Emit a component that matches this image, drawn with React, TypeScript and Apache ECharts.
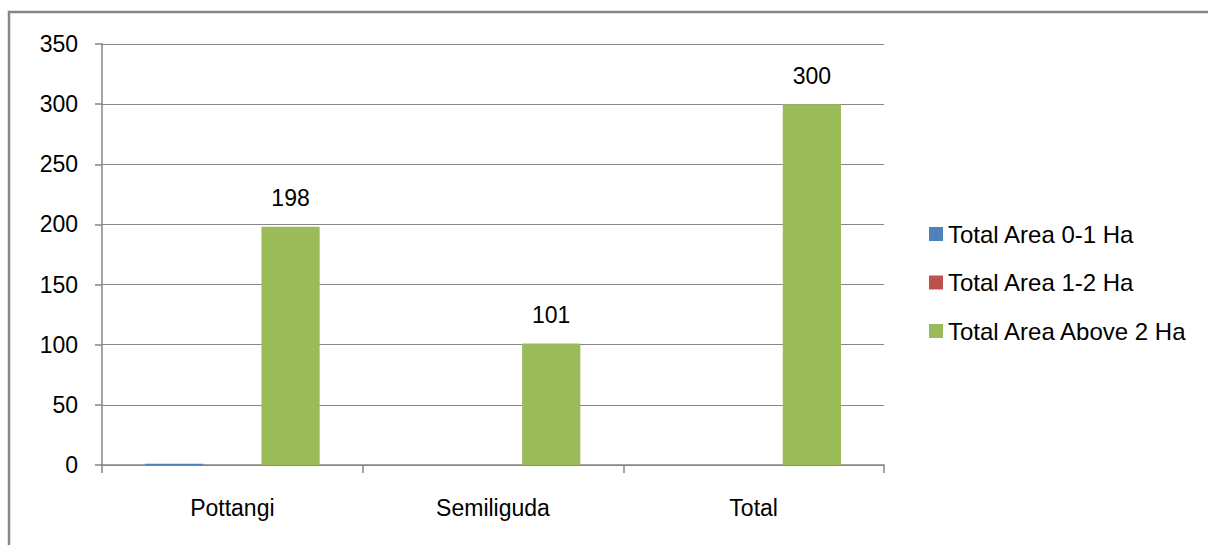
import React, { useEffect, useRef } from "react";
import * as echarts from "echarts";

const categories = ["Pottangi", "Semiliguda", "Total"];
const seriesNames = ["Total Area 0-1 Ha", "Total Area 1-2 Ha", "Total Area Above 2 Ha"];
const area01 = [1, 0, 0];
const area12 = [0, 0, 0];
const areaAbove2 = [198, 101, 300];
const colors = ["#4F81BD", "#C0504D", "#9BBB59"];
const yTicks = { min: 0, max: 350, interval: 50 };

const FONT = '"Liberation Sans", Arial, sans-serif';
const FS = 23;

export default function App() {
  const ref = useRef<HTMLDivElement>(null);
  useEffect(() => {
    if (!ref.current) return;
    const chart = echarts.init(ref.current, null, { renderer: "svg" });
    const values = [area01, area12, areaAbove2];
    chart.setOption({
      animation: false,
      backgroundColor: "#ffffff",
      textStyle: { fontFamily: FONT },
      graphic: [
        {
          type: "rect",
          shape: { x: 9, y: 12, width: 1300, height: 600 },
          style: { fill: "none", stroke: "#868686", lineWidth: 2.5 },
          silent: true,
          z: 100,
        },
      ],
      grid: { left: 102, right: 324, top: 44, bottom: 80, containLabel: false },
      legend: {
        orient: "vertical",
        left: 924,
        top: 217,
        itemWidth: 14,
        itemHeight: 14,
        itemGap: 24.5,
        icon: "rect",
        data: seriesNames,
        textStyle: {
          fontFamily: FONT,
          fontSize: 24,
          color: "#000000",
          lineHeight: 24,
          padding: [0, 0, 0, 0],
        },
      },
      xAxis: {
        type: "category",
        data: categories,
        axisLine: { lineStyle: { color: "#868686", width: 1.5 } },
        axisTick: { show: true, length: 8, lineStyle: { color: "#868686", width: 1.5 } },
        axisLabel: { fontFamily: FONT, fontSize: FS, color: "#000000", margin: 31 },
      },
      yAxis: {
        type: "value",
        min: yTicks.min,
        max: yTicks.max,
        interval: yTicks.interval,
        axisLine: { show: true, lineStyle: { color: "#868686", width: 1.5 } },
        axisTick: { show: true, length: 7, lineStyle: { color: "#868686", width: 1.5 } },
        axisLabel: { fontFamily: FONT, fontSize: FS, color: "#000000", margin: 24 },
        splitLine: { show: true, lineStyle: { color: "#868686", width: 1.2 } },
      },
      series: seriesNames.map((name, i) => ({
        name,
        type: "bar",
        data: values[i],
        barGap: "0%",
        barCategoryGap: "33%",
        itemStyle: { color: colors[i] },
        label:
          i === 2
            ? {
                show: true,
                position: "top",
                distance: 17,
                fontFamily: FONT,
                fontSize: FS,
                color: "#000000",
              }
            : { show: false },
      })),
    });
    return () => chart.dispose();
  }, []);
  return (
    <div
      ref={ref}
      style={{ position: "absolute", left: 0, top: 0, width: 1208, height: 545 }}
    />
  );
}
